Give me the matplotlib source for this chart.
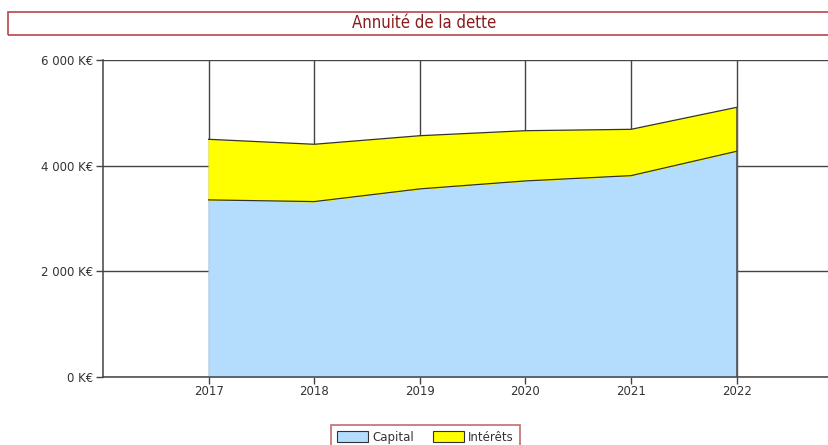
import matplotlib
matplotlib.use("Agg")
import matplotlib.pyplot as plt
from matplotlib.patches import Rectangle, Patch
import numpy as np

# données (K€)
annees = [2017, 2018, 2019, 2020, 2021, 2022]
capital = [3352, 3320, 3560, 3711, 3811, 4272]
interets = [1147, 1085, 1007, 951, 877, 832]
yticks = [0, 2000, 4000, 6000]
ytick_labels = ["0 K€", "2 000 K€", "4 000 K€", "6 000 K€"]

BLEU = "#b3dcfd"
JAUNE = "#ffff00"
ROUGE = "#8b1a1a"
GRIS = "#444444"

fig = plt.figure(figsize=(8.29, 4.45), dpi=100)
W, H = 829, 445

# axe : gauche 103 px, haut 60 px, bas 377 px, jusqu'au bord droit
ax = fig.add_axes([103 / W, 1 - 377 / H, 1 - 103 / W, (377 - 60) / H])
ax.set_xlim(2016, 2016 + (829 - 103) / 105.6)
ax.set_ylim(0, 6000)

x = np.array(annees)
cap = np.array(capital)
tot = cap + np.array(interets)

ax.fill_between(x, 0, cap, facecolor=BLEU, edgecolor=BLEU, lw=0.8, zorder=2)
ax.fill_between(x, cap, tot, facecolor=JAUNE, edgecolor=JAUNE, lw=0.8, zorder=2)
ax.plot(x, cap, color="#333333", lw=0.9, zorder=3)
ax.plot(x, tot, color="#333333", lw=0.9, zorder=3)
ax.vlines(x[-1], 0, tot[-1], color=GRIS, lw=1.1, zorder=3)

ax.set_xticks(annees)
ax.set_xticklabels([str(a) for a in annees])
ax.set_yticks(yticks)
ax.set_yticklabels(ytick_labels)
ax.grid(True, color=GRIS, lw=1.0, zorder=0)
ax.set_axisbelow(True)

for s in ["top", "right"]:
    ax.spines[s].set_visible(False)
for s in ["left", "bottom"]:
    ax.spines[s].set_color(GRIS)
    ax.spines[s].set_linewidth(1.1)
    ax.spines[s].set_zorder(4)
ax.tick_params(axis="both", colors=GRIS, labelcolor="#333333", labelsize=8.5,
               length=5, width=1)
ax.tick_params(axis="x", pad=1)
ax.tick_params(axis="y", pad=2)

# cadre du titre
fig.patches.append(Rectangle((8 / W, 1 - 35 / H), 832 / W, 23 / H,
                             transform=fig.transFigure, fill=False,
                             edgecolor="#b5474a", lw=1.2))
fig.text(424 / W, 1 - 23 / H, "Annuité de la dette", ha="center", va="center",
         color=ROUGE, fontsize=12, family="DejaVu Sans", stretch="condensed")

# légende
handles = [Patch(facecolor=BLEU, edgecolor="#333333", lw=0.8, label="Capital"),
           Patch(facecolor=JAUNE, edgecolor="#333333", lw=0.8, label="Intérêts")]
leg = fig.legend(handles=handles, loc="upper center", ncol=2,
                 bbox_to_anchor=(425.5 / W, 1 - 419 / H), fontsize=8.5,
                 frameon=True, fancybox=False, handlelength=2.6, handleheight=1.0,
                 columnspacing=1.6, handletextpad=0.4, borderpad=0.5)
leg.get_frame().set_edgecolor("#b5474a")
leg.get_frame().set_linewidth(1.2)
for t in leg.get_texts():
    t.set_color("#333333")

fig.savefig("out.png", dpi=100)
